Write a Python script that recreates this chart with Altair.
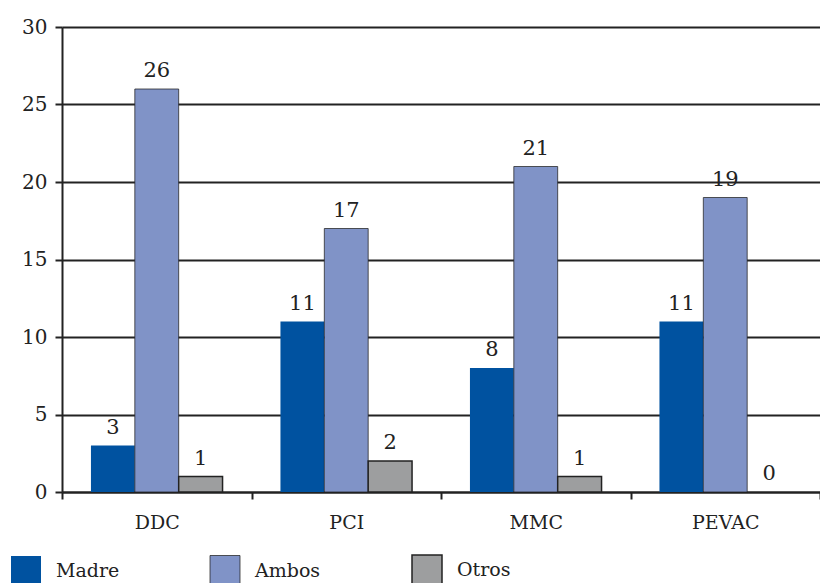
import altair as alt
import pandas as pd

categorias = ["DDC", "PCI", "MMC", "PEVAC"]
series = ["Madre", "Ambos", "Otros"]
madre = [3, 11, 8, 11]
ambos = [26, 17, 21, 19]
otros = [1, 2, 1, 0]
colores = ["#0052A0", "#8093C7", "#9D9E9F"]

rows = []
for i, c in enumerate(categorias):
    for s, vals in zip(series, [madre, ambos, otros]):
        rows.append({"categoria": c, "serie": s, "valor": vals[i]})
df = pd.DataFrame(rows)

FONT = "DejaVu Serif"
TXT = "#222222"

x_enc = alt.X(
    "categoria:N",
    sort=categorias,
    title=None,
    scale=alt.Scale(paddingInner=0, paddingOuter=0),
    axis=alt.Axis(
        labelAngle=0,
        tickBand="extent",
        tickSize=7,
        tickWidth=2,
        tickColor=TXT,
        domainColor=TXT,
        domainWidth=2,
        labelPadding=14,
        labelFontSize=19,
        labelFont=FONT,
        labelColor=TXT,
        grid=False,
    ),
)
xoff = alt.XOffset(
    "serie:N",
    sort=series,
    scale=alt.Scale(paddingInner=0, paddingOuter=0.66),
)

bars = alt.Chart(df).transform_filter(alt.datum.valor > 0).mark_bar(stroke=TXT).encode(
    x=x_enc,
    xOffset=xoff,
    y=alt.Y(
        "valor:Q",
        title=None,
        scale=alt.Scale(domain=[0, 30]),
        axis=alt.Axis(
            values=[0, 5, 10, 15, 20, 25, 30],
            tickSize=7,
            tickWidth=2,
            tickColor=TXT,
            domainColor=TXT,
            domainWidth=2,
            gridColor=TXT,
            gridWidth=2,
            gridOpacity=1,
            labelPadding=8,
            labelFontSize=20,
            labelFont=FONT,
            labelColor=TXT,
        ),
    ),
    color=alt.Color(
        "serie:N",
        sort=series,
        scale=alt.Scale(domain=series, range=colores),
        legend=alt.Legend(
            title=None,
            orient="none",
            legendX=-52,
            legendY=527,
            direction="horizontal",
            columns=3,
            columnPadding=88,
            symbolType="square",
            symbolSize=900,
            symbolStrokeColor=TXT,
            symbolOpacity=1,
            labelFont=FONT,
            labelFontSize=19,
            labelColor=TXT,
            labelOffset=14,
        ),
    ),
    strokeWidth=alt.StrokeWidth(
        "serie:N",
        sort=series,
        scale=alt.Scale(domain=series, range=[0, 1.5, 1.5]),
        legend=alt.Legend(title=None),
    ),
)

labels = alt.Chart(df).mark_text(
    baseline="alphabetic", dy=-12, font=FONT, fontSize=21, color=TXT
).encode(
    x=alt.X("categoria:N", sort=categorias),
    xOffset=alt.XOffset("serie:N", sort=series),
    y=alt.Y("valor:Q"),
    text=alt.Text("valor:Q"),
)

chart = (
    alt.layer(bars, labels)
    .properties(
        width=758,
        height=465,
        autosize=alt.AutoSizeParams(type="none"),
        padding={"left": 62, "top": 27, "right": 0, "bottom": 91},
    )
    .configure_view(stroke=None)
    .configure(background="white")
)

chart.save("out.html", embed_options={"renderer": "svg", "actions": False})
